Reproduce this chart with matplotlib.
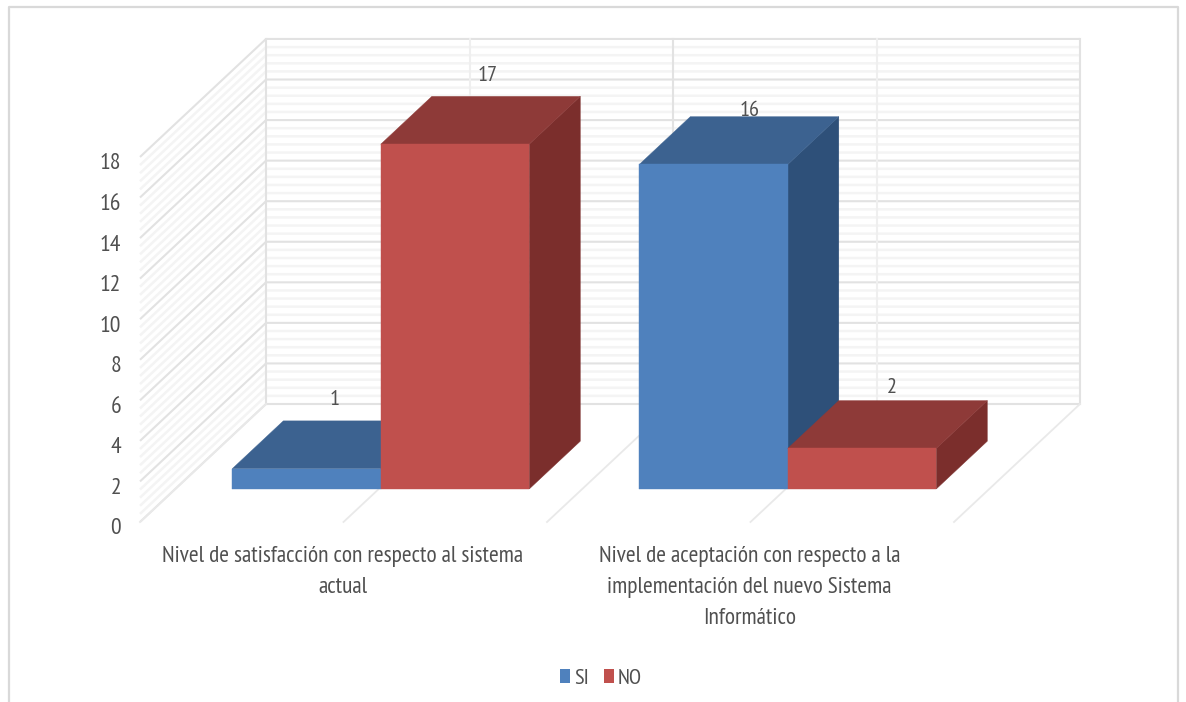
#Importing NumPy for the gridline positions
import numpy as np
#Importing Matplotlib for the drawing
import matplotlib
matplotlib.use("Agg")
import matplotlib.pyplot as plt
from matplotlib.lines import Line2D
from matplotlib.patches import Patch, Polygon

#Chart values
categories = ["Nivel de satisfacción con respecto al sistema\nactual",
              "Nivel de aceptación con respecto a la\nimplementación del nuevo Sistema\nInformático"]
series_names = ["SI", "NO"]
si_values = [1, 16]
no_values = [17, 2]
y_ticks = [0, 2, 4, 6, 8, 10, 12, 14, 16, 18]

#Colours: front, top and side of each series
SI_COLORS = ("#4F81BD", "#3C6290", "#2E5079")
NO_COLORS = ("#C0504D", "#8E3A38", "#7B2E2C")
TEXT_COLOR = "#505050"
MAJOR_GRID = "#E2E2E2"
MINOR_GRID = "#F4F4F4"

#Figure size and the mapping from chart units to pixels
W, H = 1186, 702
X0, Y0 = 140, 522 #pixel of category 0, value 0 on the front plane
PX_CAT = 407.0 #pixels per category
PX_VAL = 20.28 #pixels per value unit
DEPTH_X = 126 / PX_CAT #full depth of the box in category units
DEPTH_Y = 118 / PX_VAL #full depth of the box in value units

plt.rcParams["font.family"] = ["PT Sans Narrow", "Roboto Condensed", "Liberation Sans", "DejaVu Sans"]

#Oblique projection: depth 0 is the front plane, depth 1 is the back wall
def project(cat, val, depth=0.0):
    return cat + depth * DEPTH_X, val + depth * DEPTH_Y

#Draw the back wall, side wall and floor lines
def draw_walls(ax):
    max_val = y_ticks[-1]
    for val in np.arange(0, max_val + 0.01, 0.4):
        major = abs(val / 2 - round(val / 2)) < 1e-6
        color = MAJOR_GRID if major else MINOR_GRID
        zorder = 2 if major else 1
        xs, ys = zip(project(0, val, 0), project(0, val, 1), project(2, val, 1))
        ax.plot(xs, ys, color=color, lw=1.5 if major else 1.8, zorder=zorder, solid_capstyle="butt")
    #vertical lines of the back wall and lines over the floor
    for cat in [0, 0.5, 1, 1.5, 2]:
        wall_color = MAJOR_GRID if cat in (0, 1, 2) else "#EFEFEF"
        xs, ys = zip(project(cat, 0, 1), project(cat, max_val, 1))
        ax.plot(xs, ys, color=wall_color, lw=1.5, zorder=2)
        xs, ys = zip(project(cat, 0, 0), project(cat, 0, 1))
        ax.plot(xs, ys, color="#E9E9E9", lw=1.3, zorder=2)

#Draw one 3D bar: side and top first, then the front
def draw_bar(ax, left, width, value, colors, zorder):
    d1, d2 = 0.28, 0.685 #depth range of the bars
    right = left + width
    front = [project(left, 0, d1), project(right, 0, d1), project(right, value, d1), project(left, value, d1)]
    top = [project(left, value, d1), project(right, value, d1), project(right, value, d2), project(left, value, d2)]
    side = [project(right, 0, d1), project(right, 0, d2), project(right, value, d2), project(right, value, d1)]
    ax.add_patch(Polygon(side, closed=True, fc=colors[2], ec=colors[2], lw=0.3, zorder=zorder))
    ax.add_patch(Polygon(top, closed=True, fc=colors[1], ec=colors[1], lw=0.3, zorder=zorder))
    ax.add_patch(Polygon(front, closed=True, fc=colors[0], ec=colors[0], lw=0.3, zorder=zorder))

def main():
    fig = plt.figure(figsize=(W / 100, H / 100), dpi=100, facecolor="white")
    ax = fig.add_axes([0, 0, 1, 1])
    ax.set_xlim(-X0 / PX_CAT, (W - X0) / PX_CAT)
    ax.set_ylim((Y0 - H) / PX_VAL, Y0 / PX_VAL)
    ax.axis("off")

    #Outer chart frame, open at the bottom
    fig.add_artist(Line2D(np.array([9, 9, 1178, 1178]) / W, 1 - np.array([702, 7, 7, 702]) / H,
                          color="#D9D9D9", lw=1.6))

    draw_walls(ax)

    #Bars: gap width of 75 percent on each group
    bar_w = 148.5 / PX_CAT
    gap = 57 / PX_CAT
    #offsets of the value labels from the bar front centre, in pixels
    label_offsets = {"SI": [(28, 69), (36, 54)], "NO": [(33, 69), (30, 61)]}
    zorder = 5
    for i in range(len(categories)):
        left = i + gap
        draw_bar(ax, left, bar_w, si_values[i], SI_COLORS, zorder)
        draw_bar(ax, left + bar_w, bar_w, no_values[i], NO_COLORS, zorder + 1)
        zorder += 2
        for name, val, start in [("SI", si_values[i], left), ("NO", no_values[i], left + bar_w)]:
            ax.annotate(str(val), xy=project(start + bar_w / 2, val, 0.28),
                        xytext=label_offsets[name][i], textcoords="offset pixels",
                        ha="center", va="center", fontsize=16, color=TEXT_COLOR, zorder=20)

    #Value axis labels
    for tick in y_ticks:
        ax.annotate(str(tick), xy=project(0, tick), xytext=(-19, -7), textcoords="offset pixels",
                    ha="right", va="center", fontsize=17, color=TEXT_COLOR)

    #Category labels
    for i, label in enumerate(categories):
        ax.annotate(label, xy=project(i + 0.5, 0), xytext=(-1, -24), textcoords="offset pixels",
                    ha="center", va="top", fontsize=16.8, color=TEXT_COLOR, linespacing=1.62)

    #Legend below the chart
    handles = [Patch(fc=SI_COLORS[0]), Patch(fc=NO_COLORS[0])]
    ax.legend(handles, series_names, ncol=2, loc="center", bbox_to_anchor=(601 / W, 1 - 678 / H),
              frameon=False, fontsize=16, labelcolor=TEXT_COLOR, handlelength=0.45, handleheight=0.6,
              handletextpad=0.2, columnspacing=0.65)

    fig.savefig("out.png", dpi=100)

if __name__ == "__main__":
    main()
